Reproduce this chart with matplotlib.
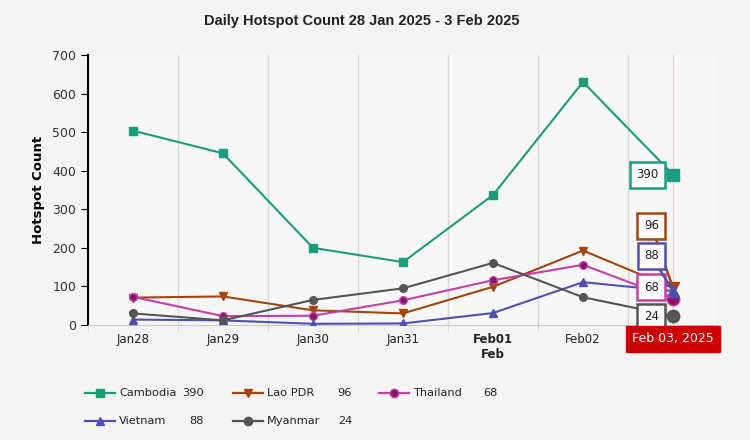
import matplotlib.pyplot as plt
from matplotlib.lines import Line2D

plt.rcParams['font.family'] = ['DejaVu Sans']

days = ['Jan28', 'Jan29', 'Jan30', 'Jan31', 'Feb01\nFeb', 'Feb02', 'Feb03']
countries = ['Cambodia', 'Lao PDR', 'Thailand', 'Vietnam', 'Myanmar']
cambodia = [504, 445, 200, 163, 337, 630, 390]
lao = [71, 74, 38, 30, 99, 193, 96]
thailand = [73, 23, 24, 64, 116, 156, 68]
vietnam = [14, 12, 3, 4, 31, 111, 88]
myanmar = [30, 12, 65, 95, 161, 72, 24]
series = [cambodia, lao, thailand, vietnam, myanmar]

line_colors = ['#1b9c7d', '#a4440f', '#c53fa5', '#5050b2', '#555555']
marker_colors = ['#1b9c7d', '#a4440f', '#85176d', '#5050b2', '#555555']
markers = ['s', 'v', 'o', '^', 'o']
# stacked label positions at the last day (layout only)
label_y = [390, 257, 98, 179, 21]

fig = plt.figure(figsize=(7.5, 4.4), dpi=100, facecolor='#f4f4f4')
ax = fig.add_axes([0.1173, 0.2614, 0.84, 0.6136])
ax.set_facecolor('#f7f7f7')

x = list(range(len(days)))
for vals, lc, mc, m in zip(series, line_colors, marker_colors, markers):
    ax.plot(x, vals, color=lc, lw=1.5, marker=m, ms=5.5,
            mfc=mc, mec=lc, mew=1, zorder=3)
    ax.plot(x[-1], vals[-1], marker=m, ms=9, color=mc, mec=lc, zorder=4)

ax.axvline(6, color='#f0d0d0', lw=1, zorder=1)

ax.set_xlim(-0.5, 6.5)
ax.set_ylim(0, 700)
ax.set_yticks(range(0, 701, 100))
ax.set_xticks(x)
# the last day's tick label sits under the red date box
ax.set_xticklabels(days[:-1] + [''], fontsize=8.5, color='#222222')
for lbl in ax.get_xticklabels():
    if lbl.get_text().startswith('Feb01'):
        lbl.set_fontweight('bold')
ax.set_xticks([i - 0.5 for i in range(len(days) + 1)], minor=True)
ax.tick_params(axis='x', which='major', length=0, pad=6)
ax.tick_params(axis='x', which='minor', length=4, color='#cccccc')
ax.tick_params(axis='y', length=5, color='black', labelsize=9, labelcolor='#333333')
ax.grid(axis='x', which='minor', color='#d8d8d8', lw=1)
for s in ['top', 'right']:
    ax.spines[s].set_visible(False)
ax.spines['bottom'].set_color('#cccccc')
ax.spines['left'].set_color('black')
ax.spines['left'].set_linewidth(1.5)
ax.set_ylabel('Hotspot Count', fontsize=9.5, fontweight='bold', labelpad=5)

fig.text(0.483, 0.953, 'Daily Hotspot Count 28 Jan 2025 - 3 Feb 2025',
         ha='center', va='center', fontsize=10.5, fontweight='bold',
         family='Liberation Sans', color='#222222')

# hover labels at the last day
for vals, lc, ly in zip(series, line_colors, label_y):
    xt = 5.72 if vals is cambodia else 5.76
    ax.annotate(str(vals[-1]), xy=(6, vals[-1]), xytext=(xt, ly),
                textcoords='data', ha='center', va='center', fontsize=8.5,
                color='#222222', zorder=6,
                bbox=dict(boxstyle='square,pad=0.55', fc='white', ec=lc, lw=1.8),
                arrowprops=dict(arrowstyle='-', color=lc, lw=1.8,
                                shrinkA=0, shrinkB=3))

ax.annotate(days[-1][:3] + ' 03, 2025', xy=(6, 0), xytext=(0, -10),
            textcoords='offset points', ha='center', va='center', fontsize=9,
            color='white', zorder=7, annotation_clip=False,
            bbox=dict(boxstyle='square,pad=0.5', fc='#cc0000', ec='#cc0000'))

# legend drawn by hand with value columns
col_x = [85, 233, 379]
row_y = [393, 421]
for i, (name, vals, lc, mc, m) in enumerate(zip(countries, series, line_colors,
                                                  marker_colors, markers)):
    r, c = divmod(i, 3)
    x0 = col_x[c] / 750
    y0 = 1 - row_y[r] / 440
    fig.add_artist(Line2D([x0, x0 + 30 / 750], [y0, y0], color=lc, lw=1.6,
                          transform=fig.transFigure))
    fig.add_artist(Line2D([x0 + 15 / 750], [y0], marker=m, ms=6, mfc=mc, mec=lc,
                          transform=fig.transFigure))
    fig.text(x0 + 34 / 750, y0, name, ha='left', va='center', fontsize=8.2,
             color='#222222')
    fig.text(x0 + 119 / 750, y0, str(vals[-1]), ha='right', va='center',
             fontsize=8.2, color='#222222')

fig.savefig('out.png', dpi=100, facecolor=fig.get_facecolor())
